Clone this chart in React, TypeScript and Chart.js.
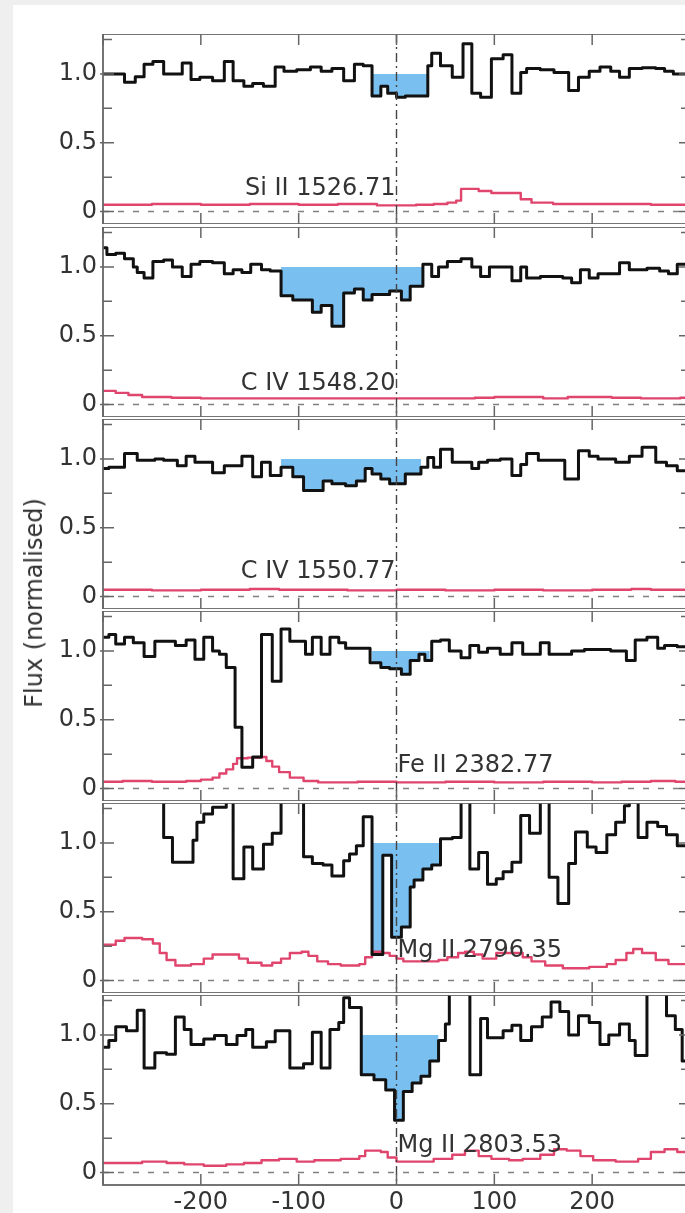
import React, { useEffect, useRef } from 'react';
import { Chart, registerables } from 'chart.js';

Chart.register(...registerables);

const FONT = '"DejaVu Sans", sans-serif';
const TEXT = '#333333';
const FRAME = '#666666';
const FLUX_COLOR = '#111111';
const ERR_COLOR = '#e0456e';
const FILL_COLOR = '#79bfef';

// ---- axes ----
const X_MIN = -300;
const X_MAX = 300;
const Y_MIN = -0.09;
const Y_MAX = 1.29;
const xTickValues = [-300, -200, -100, 0, 100, 200, 300];
const xTickLabels = ['', '-200', '-100', '0', '100', '200', ''];
const yMajorTicks = [0, 0.5, 1.0];
const yMinorTicks = [0.25, 0.75, 1.25];
const yAxisTitle = 'Flux (normalised)';

// ---- transitions ----
const lineLabels = ['Si II 1526.71', 'C IV 1548.20', 'C IV 1550.77', 'Fe II 2382.77', 'Mg II 2796.35', 'Mg II 2803.53'];
const labelYs = [0.12, 0.105, 0.135, 0.12, 0.17, 0.15];
const labelAligns = ['right', 'right', 'right', 'left', 'left', 'left'];
const fillWindows = [[-25, 32], [-118, 27], [-118, 25], [-25, 34], [-25, 45], [-36, 43]];

// ---- Si II 1526.71 (step left edges, km/s) ----
const siVel = [-300, -278, -267, -258, -249, -238, -219, -210, -201, -188, -176, -167, -156, -147, -136, -124, -115, -102, -88, -77, -66, -54, -43, -34, -25, -16, -9, 0, 9, 32, 36, 45, 57, 68, 77, 86, 97, 109, 118, 127, 133, 147, 161, 176, 186, 197, 208, 219, 228, 238, 251, 265, 274, 283, 300];
const siFlux = [1.0, 0.94, 0.98, 1.07, 1.09, 1.0, 1.08, 0.96, 0.975, 0.95, 1.09, 0.95, 0.91, 0.93, 0.91, 1.05, 1.02, 1.03, 1.05, 1.02, 1.04, 0.95, 1.07, 1.06, 0.84, 0.91, 0.86, 0.83, 0.84, 1.06, 1.15, 1.06, 0.975, 1.22, 0.86, 0.83, 1.11, 1.14, 0.86, 1.01, 1.04, 1.03, 1.01, 0.88, 0.975, 1.02, 1.05, 1.02, 0.975, 1.04, 1.045, 1.04, 1.02, 1.0, 1.0];
const siErrVel = [-300, -250, -200, -150, -100, -60, -20, 20, 38, 52, 61, 66, 84, 97, 127, 138, 160, 220, 260, 300];
const siErr = [0.05, 0.055, 0.05, 0.055, 0.05, 0.055, 0.045, 0.05, 0.055, 0.065, 0.08, 0.165, 0.15, 0.135, 0.09, 0.065, 0.055, 0.055, 0.05, 0.05];

// ---- C IV 1548.20 ----
const civ1Vel = [-300, -296, -287, -278, -269, -265, -258, -249, -238, -229, -219, -210, -201, -188, -176, -167, -158, -149, -138, -129, -118, -106, -86, -77, -66, -54, -43, -34, -25, -7, 5, 14, 27, 36, 43, 52, 66, 77, 86, 95, 118, 127, 133, 147, 170, 179, 188, 197, 206, 228, 238, 256, 269, 278, 287, 300];
const civ1Flux = [1.14, 1.09, 1.10, 1.06, 1.0, 0.96, 0.92, 1.04, 1.05, 1.0, 0.93, 1.02, 1.04, 1.03, 0.95, 0.98, 0.96, 1.02, 0.98, 0.97, 0.79, 0.76, 0.67, 0.72, 0.57, 0.81, 0.84, 0.76, 0.80, 0.825, 0.76, 0.86, 1.02, 0.93, 1.0, 1.04, 1.06, 1.0, 0.93, 1.0, 0.9, 1.0, 0.92, 0.93, 0.92, 0.885, 0.98, 0.92, 0.95, 1.03, 0.98, 0.99, 0.97, 0.95, 1.02, 1.02];
const civ1ErrVel = [-300, -287, -274, -260, -230, -200, 80, 100, 150, 175, 220, 250, 290, 300];
const civ1Err = [0.1, 0.085, 0.07, 0.055, 0.05, 0.045, 0.05, 0.055, 0.045, 0.055, 0.05, 0.045, 0.05, 0.05];

// ---- C IV 1550.77 ----
const civ2Vel = [-300, -294, -278, -265, -247, -238, -224, -215, -206, -188, -176, -158, -147, -138, -129, -118, -106, -95, -75, -66, -52, -41, -32, -25, -16, -7, 9, 25, 32, 38, 45, 57, 77, 84, 93, 106, 118, 127, 133, 145, 172, 186, 197, 206, 224, 238, 251, 265, 276, 287, 300];
const civ2Flux = [0.93, 0.94, 1.04, 0.99, 1.0, 0.99, 0.95, 1.02, 0.975, 0.9, 0.95, 1.02, 0.87, 0.975, 0.88, 0.94, 0.87, 0.77, 0.84, 0.82, 0.805, 0.84, 0.93, 0.89, 0.855, 0.82, 0.89, 0.94, 1.01, 0.94, 1.07, 0.975, 0.93, 0.975, 0.99, 1.0, 0.88, 0.96, 1.04, 0.99, 0.855, 1.06, 1.02, 1.0, 0.975, 1.02, 1.085, 0.975, 0.95, 0.915, 0.915];
const civ2ErrVel = [-300, -250, -200, -150, -120, -50, 0, 50, 100, 150, 200, 240, 260, 300];
const civ2Err = [0.05, 0.045, 0.05, 0.055, 0.05, 0.045, 0.05, 0.045, 0.05, 0.045, 0.05, 0.055, 0.05, 0.05];

// ---- Fe II 2382.77 ----
const feVel = [-300, -294, -287, -278, -269, -258, -247, -226, -215, -206, -197, -188, -181, -174, -165, -158, -147, -138, -127, -118, -109, -93, -86, -77, -68, -59, -52, -27, -16, -7, 5, 14, 23, 29, 36, 45, 54, 66, 75, 84, 93, 106, 118, 129, 147, 156, 179, 192, 219, 235, 244, 256, 267, 274, 287, 300];
const feFlux = [1.1, 1.12, 1.05, 1.1, 1.06, 0.96, 1.07, 1.04, 1.08, 0.94, 1.1, 1.0, 0.975, 0.88, 0.445, 0.155, 0.23, 1.12, 0.78, 1.16, 1.07, 0.975, 1.1, 0.975, 1.1, 1.06, 1.02, 0.915, 0.88, 0.87, 0.83, 0.93, 0.975, 0.93, 1.07, 1.08, 1.0, 0.95, 1.04, 0.99, 1.02, 0.975, 1.06, 0.975, 1.06, 0.975, 1.0, 1.01, 1.0, 0.93, 1.08, 1.1, 1.02, 1.04, 1.03, 1.03];
const feErrVel = [-300, -280, -250, -215, -200, -188, -181, -174, -167, -163, -152, -138, -133, -127, -120, -109, -95, -80, -40, 0, 50, 100, 150, 200, 230, 260, 285, 300];
const feErr = [0.05, 0.055, 0.05, 0.055, 0.065, 0.08, 0.11, 0.14, 0.18, 0.22, 0.225, 0.23, 0.2, 0.16, 0.12, 0.08, 0.055, 0.045, 0.05, 0.045, 0.05, 0.045, 0.05, 0.045, 0.05, 0.055, 0.05, 0.05];

// ---- Mg II 2796.35 ----
const mg1Vel = [-300, -238, -229, -208, -204, -197, -188, -174, -167, -156, -147, -136, -127, -118, -95, -86, -75, -66, -54, -48, -41, -34, -25, -14, -5, 5, 14, 18, 27, 36, 45, 57, 66, 75, 84, 93, 102, 109, 118, 127, 136, 147, 156, 165, 176, 183, 195, 204, 215, 224, 233, 238, 247, 256, 267, 276, 287, 300];
const mg1Flux = [1.5, 1.04, 0.86, 1.02, 1.15, 1.21, 1.26, 1.5, 0.74, 0.97, 0.81, 0.99, 1.07, 1.5, 0.9, 0.85, 0.84, 0.76, 0.87, 0.92, 0.98, 1.19, 0.19, 0.91, 0.315, 0.39, 0.68, 0.73, 0.81, 0.84, 1.03, 1.04, 1.5, 0.81, 0.93, 0.7, 0.74, 0.79, 0.86, 1.2, 1.07, 1.5, 0.75, 0.56, 0.85, 1.08, 0.97, 0.93, 1.06, 1.15, 1.27, 1.5, 1.04, 1.15, 1.12, 1.06, 0.98, 0.98];
const mg1ErrVel = [-300, -287, -278, -260, -249, -242, -235, -226, -210, -197, -188, -170, -161, -152, -138, -127, -118, -109, -97, -90, -81, -70, -57, -38, -32, -25, -16, -7, 0, 7, 43, 52, 63, 70, 79, 88, 102, 129, 138, 152, 170, 197, 215, 224, 235, 242, 251, 265, 278, 300];
const mg1Err = [0.26, 0.29, 0.31, 0.3, 0.27, 0.2, 0.15, 0.11, 0.12, 0.16, 0.19, 0.19, 0.16, 0.13, 0.11, 0.13, 0.16, 0.2, 0.21, 0.18, 0.14, 0.12, 0.11, 0.12, 0.17, 0.21, 0.2, 0.18, 0.16, 0.14, 0.15, 0.17, 0.2, 0.21, 0.19, 0.16, 0.2, 0.17, 0.14, 0.11, 0.09, 0.1, 0.12, 0.15, 0.2, 0.23, 0.2, 0.15, 0.12, 0.12];

// ---- Mg II 2803.53 ----
const mg2Vel = [-300, -294, -287, -276, -265, -258, -247, -235, -226, -217, -210, -197, -186, -174, -163, -154, -147, -133, -124, -109, -95, -86, -77, -68, -59, -54, -48, -36, -23, -11, -2, 7, 16, 25, 34, 43, 50, 54, 75, 86, 93, 109, 118, 127, 138, 149, 158, 167, 176, 186, 197, 208, 217, 228, 238, 244, 256, 276, 285, 292, 300];
const mg2Flux = [0.91, 0.96, 1.06, 1.03, 1.18, 0.76, 0.87, 0.86, 1.13, 1.04, 0.93, 0.97, 0.995, 0.93, 0.995, 1.04, 0.91, 0.95, 1.03, 0.76, 0.79, 1.02, 0.76, 1.04, 1.09, 1.27, 1.2, 0.71, 0.675, 0.6, 0.38, 0.59, 0.65, 0.7, 0.81, 0.96, 1.08, 1.5, 0.71, 1.12, 0.98, 1.03, 1.07, 0.96, 1.06, 1.13, 1.24, 1.17, 1.0, 1.14, 1.09, 0.93, 1.0, 1.08, 0.96, 0.85, 1.5, 1.14, 1.04, 0.81, 0.81];
const mg2ErrVel = [-300, -260, -235, -217, -197, -174, -156, -138, -120, -102, -84, -57, -38, -32, -16, -9, 0, 38, 57, 70, 84, 97, 115, 129, 147, 161, 174, 188, 201, 224, 247, 260, 274, 287, 300];
const mg2Err = [0.07, 0.08, 0.07, 0.06, 0.05, 0.06, 0.07, 0.09, 0.1, 0.08, 0.09, 0.1, 0.12, 0.16, 0.15, 0.11, 0.08, 0.1, 0.13, 0.16, 0.12, 0.1, 0.09, 0.1, 0.13, 0.17, 0.16, 0.12, 0.09, 0.08, 0.1, 0.15, 0.17, 0.15, 0.14];

const panelDefs = [
  { vel: siVel, flux: siFlux, errVel: siErrVel, err: siErr },
  { vel: civ1Vel, flux: civ1Flux, errVel: civ1ErrVel, err: civ1Err },
  { vel: civ2Vel, flux: civ2Flux, errVel: civ2ErrVel, err: civ2Err },
  { vel: feVel, flux: feFlux, errVel: feErrVel, err: feErr },
  { vel: mg1Vel, flux: mg1Flux, errVel: mg1ErrVel, err: mg1Err },
  { vel: mg2Vel, flux: mg2Flux, errVel: mg2ErrVel, err: mg2Err },
];

// ---- layout ----
const PANEL_TOPS = [34, 227, 419, 611, 803, 995];
const PANEL_H = 190;
const X_AXIS_H = 30;
const CANVAS_W = 700;
const PLOT_LEFT = 103;
const PLOT_RIGHT_PAD = 10;

function toPoints(xs: number[], ys: number[]) {
  return xs.map((x, i) => ({ x, y: ys[i] }));
}

function clipSteps(xs: number[], ys: number[], lo: number, hi: number) {
  let i0 = 0;
  for (let i = 0; i < xs.length; i++) if (xs[i] <= lo) i0 = i;
  const pts = [{ x: lo, y: ys[i0] }];
  let last = ys[i0];
  for (let i = 0; i < xs.length; i++) {
    if (xs[i] > lo && xs[i] < hi) {
      pts.push({ x: xs[i], y: ys[i] });
      last = ys[i];
    }
  }
  pts.push({ x: hi, y: last });
  return pts;
}

const decoPlugin = {
  id: 'deco',
  beforeDatasetsDraw(chart: any) {
    const { ctx, chartArea: a } = chart;
    const y0 = chart.scales.y.getPixelForValue(0);
    ctx.save();
    ctx.strokeStyle = '#808080';
    ctx.lineWidth = 1.5;
    ctx.setLineDash([6, 9]);
    ctx.beginPath();
    ctx.moveTo(a.left, y0);
    ctx.lineTo(a.right, y0);
    ctx.stroke();
    ctx.restore();
  },
  afterDatasetsDraw(chart: any, _args: any, opts: any) {
    const { ctx, chartArea: a } = chart;
    const xs = chart.scales.x;
    const ys = chart.scales.y;
    const x0 = xs.getPixelForValue(0);
    ctx.save();
    // vertical dash-dot line at v = 0
    ctx.strokeStyle = '#444444';
    ctx.lineWidth = 1.4;
    ctx.setLineDash([9, 4, 2, 4]);
    ctx.beginPath();
    ctx.moveTo(x0, a.top);
    ctx.lineTo(x0, a.bottom);
    ctx.stroke();
    ctx.setLineDash([]);
    // transition label
    ctx.fillStyle = TEXT;
    ctx.font = `24px ${FONT}`;
    ctx.textAlign = opts.align;
    ctx.textBaseline = 'alphabetic';
    ctx.fillText(opts.label, x0 + (opts.align === 'left' ? 1 : -1), ys.getPixelForValue(opts.labelY));
    // frame
    ctx.strokeStyle = FRAME;
    ctx.lineWidth = 1.8;
    ctx.strokeRect(a.left, a.top, a.right - a.left, a.bottom - a.top);
    // ticks (inward)
    ctx.lineWidth = 1.5;
    ctx.beginPath();
    for (const v of xTickValues) {
      const px = xs.getPixelForValue(v);
      ctx.moveTo(px, a.top);
      ctx.lineTo(px, a.top + 11);
      ctx.moveTo(px, a.bottom);
      ctx.lineTo(px, a.bottom - 11);
    }
    for (const v of yMajorTicks) {
      const py = ys.getPixelForValue(v);
      ctx.moveTo(a.left - 3, py);
      ctx.lineTo(a.left + 11, py);
      ctx.moveTo(a.right + 3, py);
      ctx.lineTo(a.right - 11, py);
    }
    for (const v of yMinorTicks) {
      const py = ys.getPixelForValue(v);
      ctx.moveTo(a.left, py);
      ctx.lineTo(a.left + 9, py);
      ctx.moveTo(a.right, py);
      ctx.lineTo(a.right - 9, py);
    }
    ctx.stroke();
    ctx.restore();
  },
};

function Panel({ idx }: { idx: number }) {
  const ref = useRef<HTMLCanvasElement>(null);
  const isLast = idx === panelDefs.length - 1;
  const h = PANEL_H + (isLast ? X_AXIS_H : 0);
  useEffect(() => {
    const def = panelDefs[idx];
    const win = fillWindows[idx];
    const chart = new Chart(ref.current as HTMLCanvasElement, {
      type: 'line',
      data: {
        datasets: [
          {
            data: toPoints(def.vel, def.flux),
            borderColor: FLUX_COLOR,
            borderWidth: 3,
            stepped: 'before',
            pointRadius: 0,
            fill: false,
            borderJoinStyle: 'round',
            order: 0,
          },
          {
            data: toPoints(def.errVel, def.err),
            borderColor: ERR_COLOR,
            borderWidth: 2.4,
            stepped: 'before',
            pointRadius: 0,
            fill: false,
            borderJoinStyle: 'round',
            order: 1,
          },
          {
            data: clipSteps(def.vel, def.flux, win[0], win[1]),
            borderWidth: 0,
            borderColor: 'rgba(0,0,0,0)',
            backgroundColor: FILL_COLOR,
            stepped: 'before',
            pointRadius: 0,
            fill: { value: 1 },
            order: 2,
          },
        ] as any,
      },
      options: {
        responsive: false,
        animation: false,
        devicePixelRatio: 1,
        events: [],
        layout: { padding: { left: 0, right: PLOT_RIGHT_PAD, top: 0, bottom: 0 } },
        plugins: {
          legend: { display: false },
          tooltip: { enabled: false },
          deco: { label: lineLabels[idx], labelY: labelYs[idx], align: labelAligns[idx] },
        } as any,
        scales: {
          x: {
            type: 'linear',
            min: X_MIN,
            max: X_MAX,
            display: isLast,
            grid: { display: false, drawTicks: false },
            border: { display: false },
            ticks: {
              stepSize: 100,
              padding: 3,
              autoSkip: false,
              maxRotation: 0,
              color: TEXT,
              font: { family: FONT, size: 24 },
              callback: (v: any) => {
                const k = xTickValues.indexOf(Number(v));
                return k >= 0 ? xTickLabels[k] : '';
              },
            },
            afterFit: (s: any) => {
              s.height = isLast ? X_AXIS_H : 0;
              s.paddingLeft = 0;
              s.paddingRight = 0;
            },
          },
          y: {
            type: 'linear',
            min: Y_MIN,
            max: Y_MAX,
            grid: { display: false, drawTicks: false },
            border: { display: false },
            ticks: {
              stepSize: 0.5,
              includeBounds: false,
              padding: 6,
              color: TEXT,
              font: { family: FONT, size: 24 },
              callback: (v: any) => (Number(v) === 0 ? '0' : Number(v).toFixed(1)),
            },
            afterFit: (s: any) => {
              s.width = PLOT_LEFT;
              s.paddingTop = 0;
              s.paddingBottom = 0;
            },
          },
        } as any,
      },
      plugins: [decoPlugin as any],
    });
    return () => chart.destroy();
  }, [idx]);
  return (
    <canvas
      ref={ref}
      width={CANVAS_W}
      height={h}
      style={{ position: 'absolute', left: 0, top: PANEL_TOPS[idx], width: CANVAS_W, height: h }}
    />
  );
}

export default function App() {
  return (
    <div
      style={{
        position: 'fixed',
        left: 0,
        top: 0,
        width: 685,
        height: 1213,
        overflow: 'hidden',
        background: '#efefef',
      }}
    >
      <div style={{ position: 'absolute', left: 13, top: 5, right: 0, bottom: 0, background: '#ffffff' }} />
      {panelDefs.map((_, i) => (
        <Panel key={i} idx={i} />
      ))}
      <div
        style={{
          position: 'absolute',
          left: 34,
          top: 603,
          transform: 'translate(-50%, -50%) rotate(-90deg)',
          font: `24px ${FONT}`,
          color: TEXT,
          whiteSpace: 'nowrap',
        }}
      >
        {yAxisTitle}
      </div>
    </div>
  );
}
